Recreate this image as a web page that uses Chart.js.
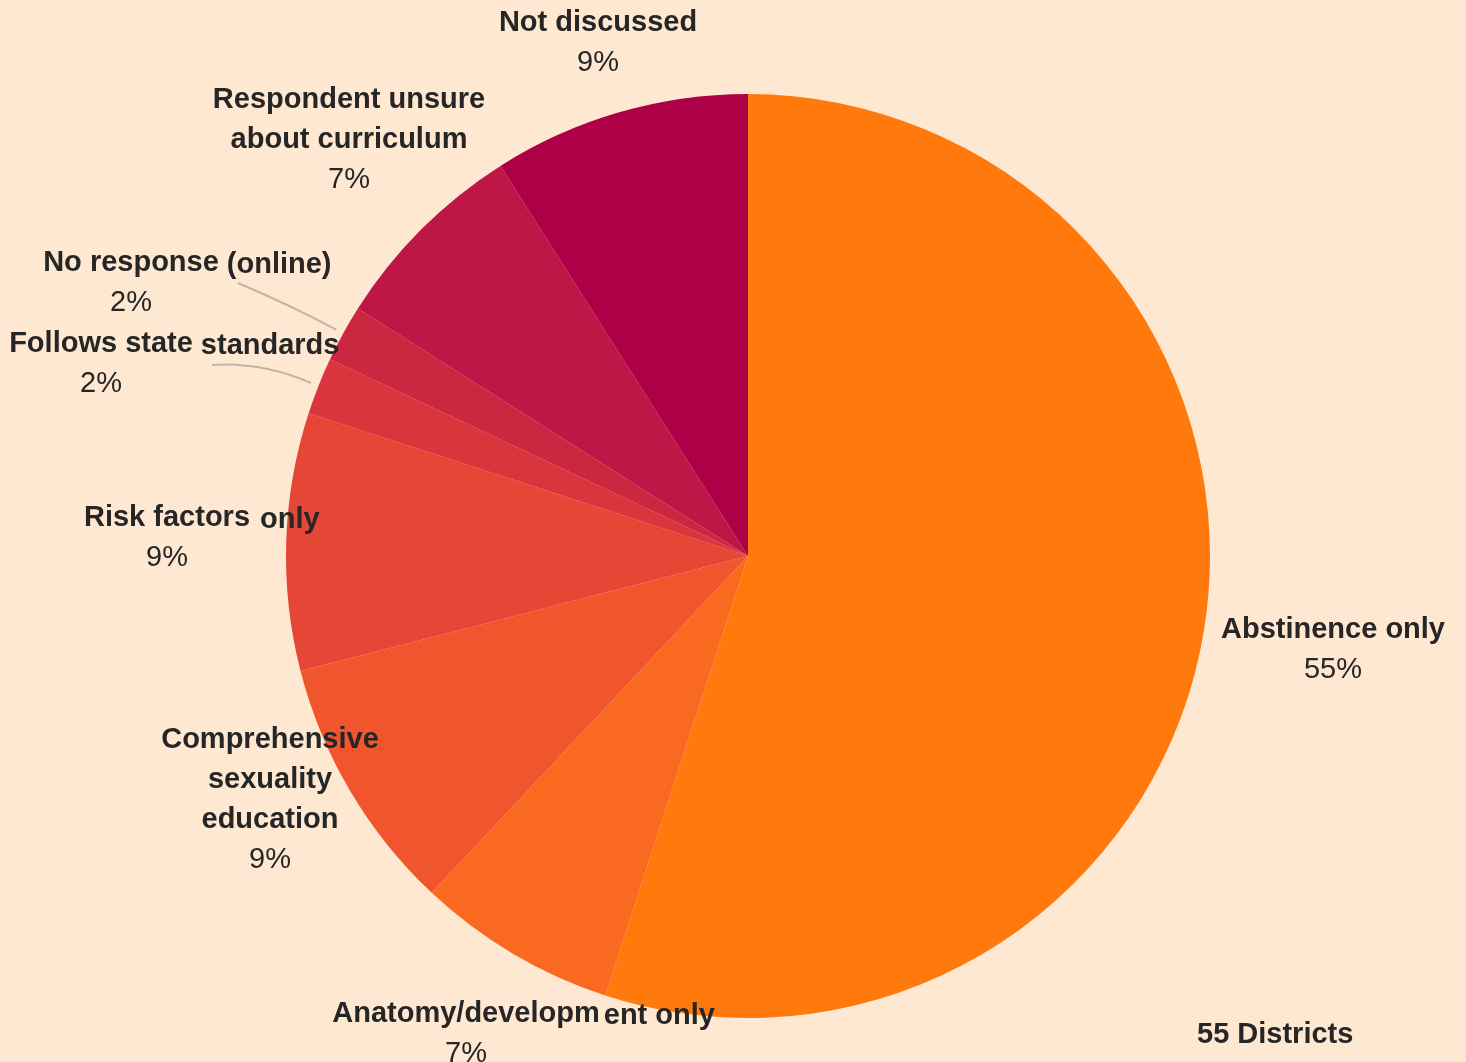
<!DOCTYPE html>
<html>
<head>
<meta charset="utf-8">
<script src="https://cdn.jsdelivr.net/npm/chart.js@4"></script>
<style>
  html, body { margin: 0; padding: 0; background: #FFE8D1; }
  #wrap { width: 1466px; height: 1062px; position: relative; }
</style>
</head>
<body>
<div id="wrap"><canvas id="pie"></canvas></div>
<script>
// share of 55 districts by type of sex ed curriculum (%)
const categories = [
    "Abstinence only",
    "Anatomy/development only",
    "Comprehensive sexuality education",
    "Risk factors only",
    "Follows state standards",
    "No response (online)",
    "Respondent unsure about curriculum",
    "Not discussed"
];
const shares = [55, 7, 9, 9, 2, 2, 7, 9];
const sliceColors = ["#FF790C", "#F96A20", "#F0552D", "#E54635", "#DA353C", "#CC2741", "#BE1646", "#AD0046"];
const totalLabel = "55 Districts";

const pctLabels = shares.map(v => v + "%");

// where each label sits (text only), name lines split into segments like the original
const labelLayout = [
    { x: 1333, y: 630, lines: [["Abstinence only"]] },
    { x: 466, y: 1014, lines: [["Anatomy/developm", "ent only"]], gap: 4 },
    { x: 270, y: 740, lines: [["Comprehensive"], ["sexuality"], ["education"]] },
    { x: 167, y: 518, lines: [["Risk factors", "only"]], gap: 10 },
    { x: 101, y: 344, lines: [["Follows state", "standards"]], lead: [212, 365, 262, 362] },
    { x: 131, y: 263, lines: [["No response", "(online)"]], lead: [238, 283, 290, 305] },
    { x: 349, y: 100, lines: [["Respondent unsure"], ["about curriculum"]] },
    { x: 598, y: 23, lines: [["Not discussed"]] }
];

const FONT = '"Liberation Sans", Arial, sans-serif';
const LINE_H = 40;

const labelPlugin = {
    id: "pieLabels",
    afterDatasetsDraw(chart) {
        const ctx = chart.ctx;
        const arcs = chart.getDatasetMeta(0).data;
        ctx.save();
        ctx.textBaseline = "middle";
        ctx.fillStyle = "#262626";

        labelLayout.forEach((lab, i) => {
            // leader line from the slice edge
            if (lab.lead) {
                const a = arcs[i];
                const mid = (a.startAngle + a.endAngle) / 2;
                const r = a.outerRadius + 8;
                const sx = a.x + Math.cos(mid) * r;
                const sy = a.y + Math.sin(mid) * r;
                ctx.strokeStyle = "#C4B5A3";
                ctx.lineWidth = 2;
                ctx.beginPath();
                ctx.moveTo(sx, sy);
                ctx.quadraticCurveTo(lab.lead[2], lab.lead[3], lab.lead[0], lab.lead[1]);
                ctx.stroke();
            }

            let y = lab.y;
            ctx.font = "bold 29px " + FONT;
            lab.lines.forEach(segs => {
                ctx.textAlign = "center";
                ctx.fillText(segs[0], lab.x, y);
                let cursor = lab.x + ctx.measureText(segs[0]).width / 2;
                ctx.textAlign = "left";
                segs.slice(1).forEach(s => {
                    cursor += lab.gap || 8;
                    ctx.fillText(s, cursor, y + 2);
                    cursor += ctx.measureText(s).width;
                });
                y += LINE_H;
            });
            ctx.font = "29px " + FONT;
            ctx.textAlign = "center";
            ctx.fillText(pctLabels[i], lab.x, y);
        });

        ctx.font = "bold 29px " + FONT;
        ctx.textAlign = "left";
        ctx.fillText(totalLabel, 1197, 1035);
        ctx.restore();
    }
};

new Chart(document.getElementById("pie"), {
    type: "pie",
    data: {
        labels: categories,
        datasets: [{
            data: shares,
            backgroundColor: sliceColors,
            borderWidth: 0
        }]
    },
    options: {
        responsive: true,
        maintainAspectRatio: false,
        animation: false,
        layout: { padding: { top: 94, bottom: 44, left: 286, right: 256 } },
        plugins: {
            legend: { display: false },
            tooltip: { enabled: false }
        }
    },
    plugins: [labelPlugin]
});
</script>
</body>
</html>
